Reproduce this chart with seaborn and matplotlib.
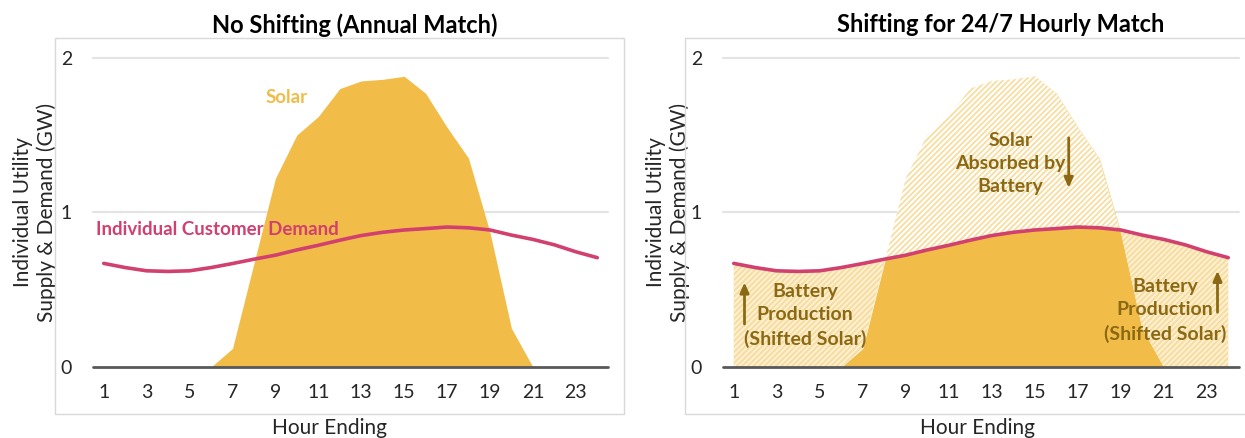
### 两个面板：不移峰 vs 24/7 小时匹配

import numpy as np
import matplotlib
matplotlib.use('Agg')
import matplotlib.pyplot as plt
from matplotlib.patches import Rectangle
import seaborn as sns

# 数据
hours = np.arange(1, 25)
solar = np.array([0, 0, 0, 0, 0, 0, 0.12, 0.67, 1.22, 1.50, 1.62, 1.80,
                  1.85, 1.86, 1.88, 1.77, 1.55, 1.35, 0.87, 0.25, 0, 0, 0, 0])
demand = np.array([0.67, 0.643, 0.622, 0.618, 0.622, 0.643, 0.669, 0.697,
                   0.723, 0.757, 0.787, 0.82, 0.85, 0.871, 0.886, 0.895,
                   0.905, 0.90, 0.886, 0.853, 0.825, 0.79, 0.745, 0.707])
xticks = list(range(1, 24, 2))
yticks = [0, 1, 2]
titles = ['No Shifting (Annual Match)', 'Shifting for 24/7 Hourly Match']

ORANGE = '#F2BC48'
PINK = '#D1406E'
BROWN = '#8B6914'
PALE = '#F8DDA0'

sns.set_theme(style='white')
plt.rcParams['font.family'] = ['Lato', 'DejaVu Sans']
plt.rcParams['hatch.linewidth'] = 1.3

W, H = 1245, 438
fig = plt.figure(figsize=(W / 100, H / 100), dpi=100)

def px_axes(x0, x1, ytop, ybot):
    return fig.add_axes([x0 / W, 1 - ybot / H, (x1 - x0) / W, (ybot - ytop) / H])

ax1 = px_axes(93, 608, 57.7, 367)
ax2 = px_axes(723, 1239, 57.7, 367)

# 外框
for x0, x1 in [(54.7, 624), (685, 1250)]:
    fig.patches.append(Rectangle((x0 / W, 1 - 414 / H), (x1 - x0) / W, (414 - 38.3) / H,
                                 transform=fig.transFigure, fill=False,
                                 edgecolor='#D9D9D9', linewidth=1.0, zorder=0))

def style_axes(ax, label_x):
    ax.set_xlim(0.5, 24.5)
    ax.set_ylim(0, 2)
    ax.set_xticks(xticks)
    ax.set_yticks(yticks)
    ax.set_yticklabels([str(t) for t in yticks])
    ax.tick_params(axis='x', length=0, pad=12, labelsize=14, colors='#262626')
    ax.tick_params(axis='y', length=0, pad=15, labelsize=14, colors='#262626')
    for s in ax.spines.values():
        s.set_visible(False)
    ax.set_facecolor('none')
    for v in [1, 2]:
        ax.axhline(v, color='#E3E3E3', lw=1.5, zorder=0, clip_on=False)
    ax.axhline(0, color='#595959', lw=2, zorder=5, clip_on=False)
    ax.set_xlabel('Hour Ending', fontsize=15, color='#262626')
    ax.xaxis.set_label_coords(label_x, -0.165)
    ax.xaxis.label.set_va('top')
    ax.set_ylabel('Individual Utility\nSupply & Demand (GW)', fontsize=15,
                  color='#262626', linespacing=1.25)

# 左图
ax = ax1
ax.fill_between(hours, 0, solar, color=ORANGE, lw=0, zorder=2)
sns.lineplot(x=hours, y=demand, ax=ax, color=PINK, lw=2.6, zorder=4)
ax.text(9.5, 1.74, 'Solar', color=ORANGE, fontsize=13.5, fontweight='bold',
        ha='center', va='center')
ax.text(6.3, 0.89, 'Individual Customer Demand', color=PINK, fontsize=13.5,
        fontweight='bold', ha='center', va='center', zorder=6)
style_axes(ax, (330 - 93) / 515)
ax.yaxis.set_label_coords((35 - 93) / 515, 0.5)
ax.yaxis.label.set_va('center')

# 右图
ax = ax2
# 直接满足的部分：先画整块太阳能，再用吸收区覆盖需求线以上部分
ax.fill_between(hours, 0, solar, color=ORANGE, lw=0, zorder=1)
# 被电池吸收的太阳能（阴影）
ax.fill_between(hours, demand, solar, where=solar > demand, interpolate=True,
                facecolor='white', edgecolor=PALE, hatch='//////', lw=0, zorder=2)
# 电池放电（移峰后的太阳能）
ax.fill_between(hours, solar, demand, where=solar < demand, interpolate=True,
                facecolor=PALE, edgecolor='#FDF1D6', hatch='//////', lw=0, zorder=2)
sns.lineplot(x=hours, y=demand, ax=ax, color=PINK, lw=2.6, zorder=4)

ax.text(13.88, 1.317, 'Solar\nAbsorbed by\nBattery', color=BROWN, fontsize=14,
        fontweight='bold', ha='center', va='center', linespacing=1.45, zorder=6)
ax.text(4.31, 0.334, 'Battery\nProduction\n(Shifted Solar)', color=BROWN, fontsize=14,
        fontweight='bold', ha='center', va='center', linespacing=1.45, zorder=6)
ax.text(21.06, 0.368, 'Battery\nProduction\n(Shifted Solar)', color=BROWN, fontsize=14,
        fontweight='bold', ha='center', va='center', linespacing=1.45, zorder=6)
arrow = dict(arrowstyle='-|>,head_length=0.5,head_width=0.22', color=BROWN, lw=2)
ax.annotate('', xy=(16.58, 1.14), xytext=(16.58, 1.50), arrowprops=arrow, zorder=6)
ax.annotate('', xy=(1.5, 0.565), xytext=(1.5, 0.26), arrowprops=arrow, zorder=6)
ax.annotate('', xy=(23.5, 0.64), xytext=(23.5, 0.336), arrowprops=arrow, zorder=6)
style_axes(ax, (978 - 723) / 516)
ax.yaxis.set_label_coords((668 - 723) / 516, 0.5)
ax.yaxis.label.set_va('center')

fig.text(355 / W, 1 - 25 / H, titles[0], ha='center', va='center',
         fontsize=17, fontweight='bold', color='black')
fig.text(1001 / W, 1 - 25 / H, titles[1], ha='center', va='center',
         fontsize=17, fontweight='bold', color='black')

fig.savefig('out.png', dpi=100, facecolor='white')
